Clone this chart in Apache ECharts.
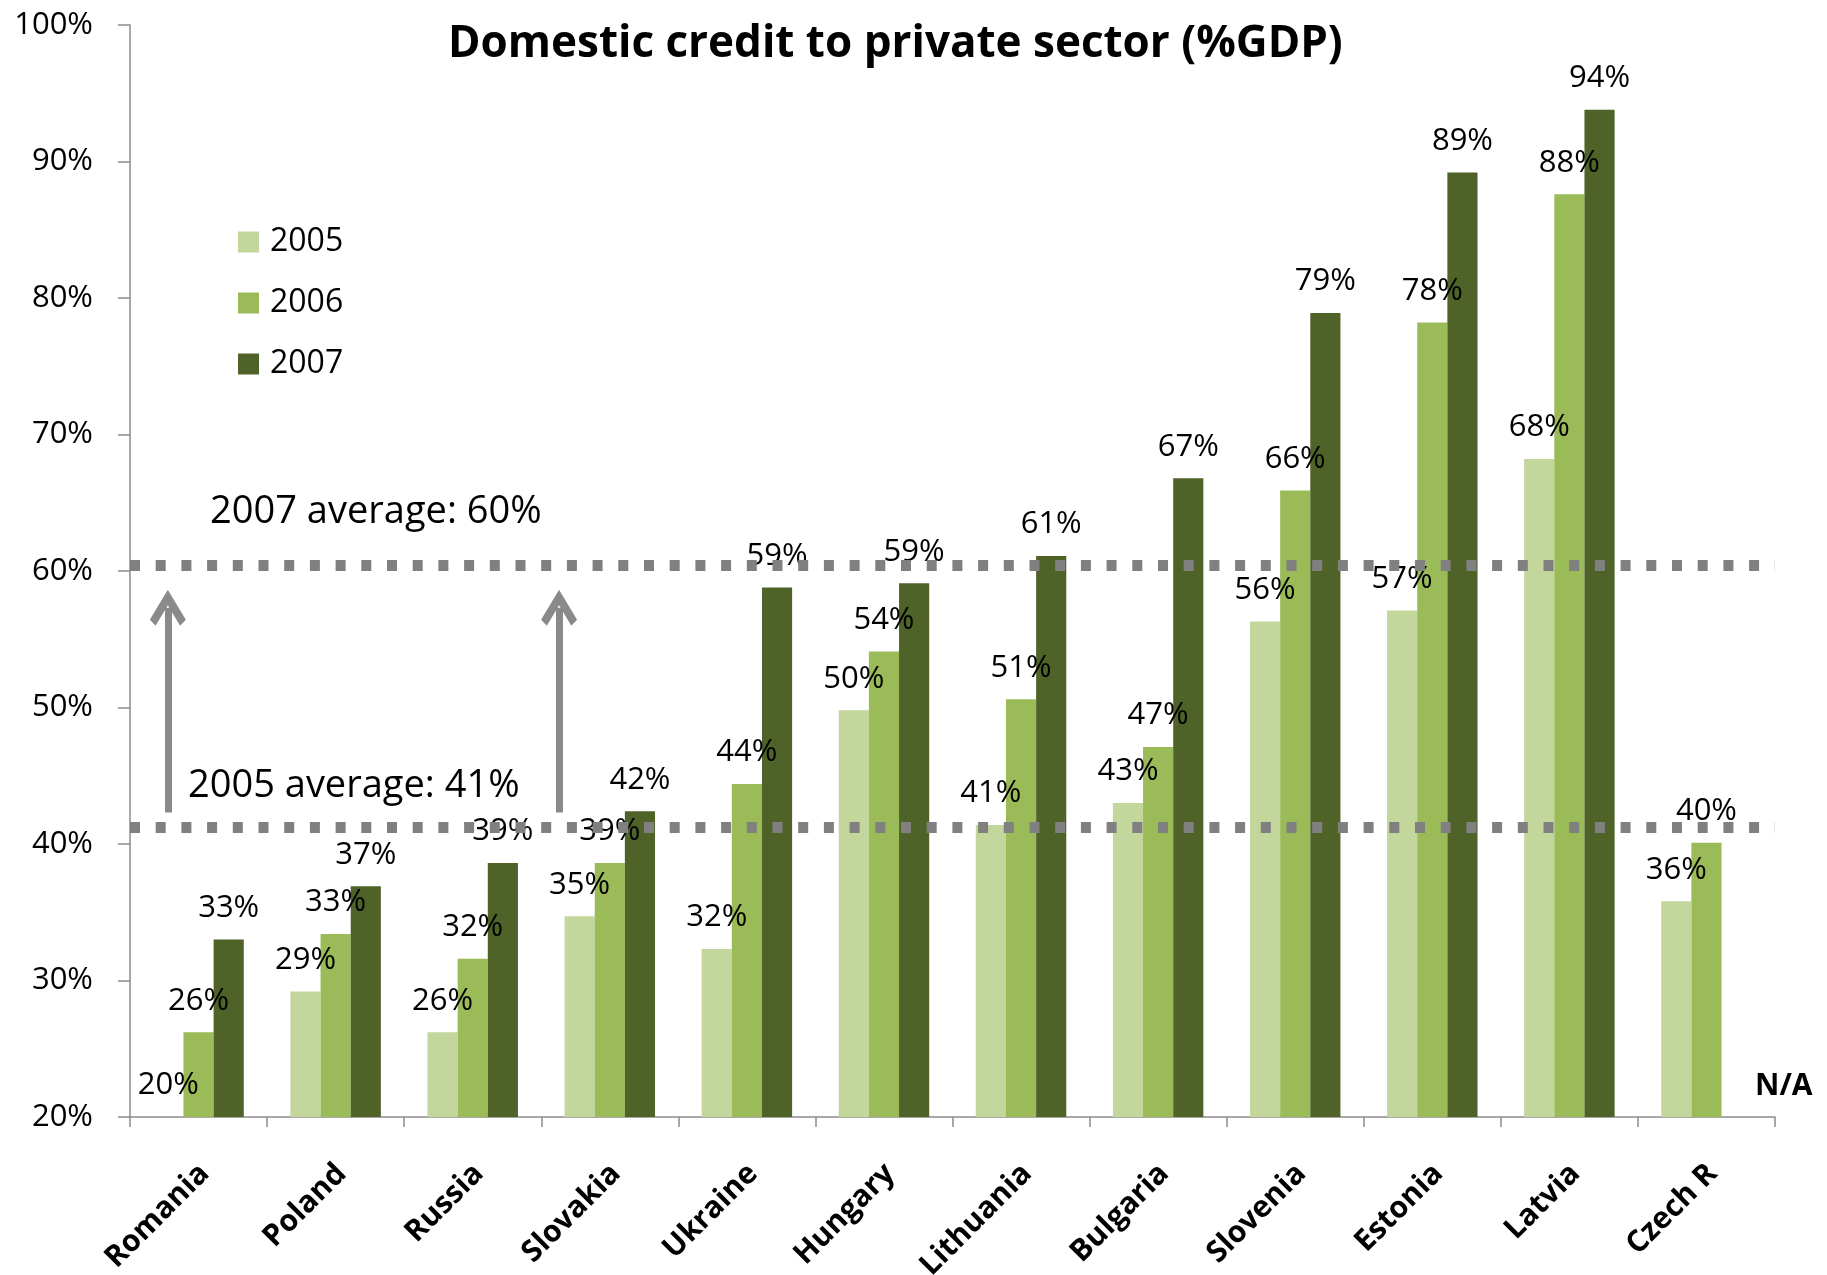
<!DOCTYPE html>
<html>
<head>
<meta charset="utf-8">
<title>Domestic credit to private sector (%GDP)</title>
<script src="https://cdn.jsdelivr.net/npm/echarts@6/dist/echarts.min.js"></script>
<style>
  html, body { margin: 0; padding: 0; background: #ffffff; }
  #chart { width: 1827px; height: 1275px; }
</style>
</head>
<body>
<div id="chart"></div>
<script>
// Countries, in display order
const categories = ['Romania', 'Poland', 'Russia', 'Slovakia', 'Ukraine', 'Hungary',
  'Lithuania', 'Bulgaria', 'Slovenia', 'Estonia', 'Latvia', 'Czech R'];

// Domestic credit to private sector, % of GDP
const credit2005 = [20.0, 29.2, 26.2, 34.7, 32.3, 49.8, 41.4, 43.0, 56.3, 57.1, 68.2, 35.8];
const credit2006 = [26.2, 33.4, 31.6, 38.6, 44.4, 54.1, 50.6, 47.1, 65.9, 78.2, 87.6, 40.1];
const credit2007 = [33.0, 36.9, 38.6, 42.4, 58.8, 59.1, 61.1, 66.8, 78.9, 89.2, 93.8, null];

// Reference averages shown as dotted lines
const average2005 = 41.2;
const average2007 = 60.4;

// Y axis ticks
const yTicks = [20, 30, 40, 50, 60, 70, 80, 90, 100];

// Upward arrows between the two averages (x in category units on a 0..12 scale)
const arrowX = [0.276, 3.13];
const arrowFrom = 42.3;
const arrowTo = 57.3;

const FONT = 'Open Sans';
const colors = ['#c3d69b', '#9bbb59', '#4f6228'];

const barLabel = {
  show: true,
  position: 'top',
  distance: 16,
  fontFamily: FONT,
  fontSize: 31,
  color: '#000',
  formatter: p => (p.value == null ? '' : Math.round(p.value) + '%')
};

function barSeries(name, data, color) {
  return {
    name: name,
    type: 'bar',
    xAxisIndex: 0,
    yAxisIndex: 0,
    data: data,
    barGap: '0%',
    barCategoryGap: '34%',
    itemStyle: { color: color },
    label: barLabel
  };
}

const chart = echarts.init(document.getElementById('chart'), null, { renderer: 'canvas' });

// open chevron arrow head, pointing up
const chevron = 'path://M50,0 L100,78 L84,94 L50,40 L16,94 L0,78 Z';

const option = {
  backgroundColor: '#ffffff',
  animation: false,
  textStyle: { fontFamily: FONT },
  title: {
    text: 'Domestic credit to private sector (%GDP)',
    left: 448,
    top: 22,
    padding: 0,
    textStyle: { fontFamily: FONT, fontSize: 44, fontWeight: 'bold', color: '#000' }
  },
  legend: {
    data: ['2005', '2006', '2007'],
    orient: 'vertical',
    left: 238,
    top: 225,
    padding: 0,
    itemWidth: 21,
    itemHeight: 21,
    itemGap: 27,
    icon: 'rect',
    selectedMode: false,
    textStyle: { fontFamily: FONT, fontSize: 32, color: '#000', lineHeight: 34, padding: [0, 0, 0, 6] }
  },
  grid: { left: 130, right: 52, top: 25, bottom: 158, containLabel: false, outerBoundsMode: 'none' },
  xAxis: [
    {
      type: 'category',
      data: categories,
      axisLine: { show: true, lineStyle: { color: '#8c8c8c', width: 1.5 } },
      axisTick: { show: true, length: 10, interval: 0, lineStyle: { color: '#8c8c8c', width: 1.5 } },
      axisLabel: {
        interval: 0, rotate: 45, margin: 46,
        verticalAlign: 'top', lineHeight: 17,
        fontFamily: FONT, fontSize: 30, fontWeight: 'bold', color: '#000'
      },
      splitLine: { show: false }
    },
    {
      // helper axis for placing annotations between categories
      type: 'value', min: 0, max: 12, show: false
    }
  ],
  yAxis: {
    type: 'value',
    min: yTicks[0],
    max: yTicks[yTicks.length - 1],
    interval: 10,
    axisLine: { show: true, lineStyle: { color: '#8c8c8c', width: 1.5 } },
    axisTick: { show: true, length: 12, lineStyle: { color: '#8c8c8c', width: 1.5 } },
    axisLabel: {
      margin: 37, fontFamily: FONT, fontSize: 31, color: '#000',
      formatter: v => v + '%'
    },
    splitLine: { show: false }
  },
  series: [
    barSeries('2005', credit2005, colors[0]),
    barSeries('2006', credit2006, colors[1]),
    barSeries('2007', credit2007, colors[2]),
    {
      // dotted average lines and their captions
      name: 'averages',
      type: 'scatter',
      xAxisIndex: 1,
      yAxisIndex: 0,
      data: [[0, 20]],
      symbolSize: 0,
      silent: true,
      z: 5,
      markLine: {
        silent: true,
        symbol: ['none', 'none'],
        label: { show: false },
        lineStyle: { color: '#808080', width: 11, type: [10, 15.7], cap: 'butt' },
        data: [{ yAxis: average2007 }, { yAxis: average2005 }]
      },
      markPoint: {
        silent: true,
        symbol: 'circle',
        symbolSize: 0,
        label: {
          show: true, position: 'right', distance: 0,
          fontFamily: FONT, fontSize: 38, color: '#000'
        },
        data: [
          { coord: [0.584, 64.3], label: { formatter: '2007 average: ' + Math.round(average2007) + '%' } },
          { coord: [0.423, 44.2], label: { formatter: '2005 average: ' + Math.round(average2005) + '%' } }
        ]
      }
    },
    {
      // arrows pointing from the 2005 average up to the 2007 average
      name: 'arrows',
      type: 'scatter',
      xAxisIndex: 1,
      yAxisIndex: 0,
      data: [[0, 20]],
      symbolSize: 0,
      silent: true,
      z: 5,
      markLine: {
        silent: true,
        symbol: ['none', chevron],
        symbolSize: 36,
        label: { show: false },
        lineStyle: { color: '#8a8a8a', width: 7, type: 'solid' },
        data: arrowX.map(x => [{ coord: [x, arrowFrom] }, { coord: [x, arrowTo] }])
      }
    }
  ],
  graphic: [
    {
      type: 'text',
      left: 1755,
      top: 1071,
      style: { text: 'N/A', fontFamily: FONT, fontSize: 30, fontWeight: 'bold', fill: '#000' }
    }
  ]
};

chart.setOption(option);
</script>
</body>
</html>
